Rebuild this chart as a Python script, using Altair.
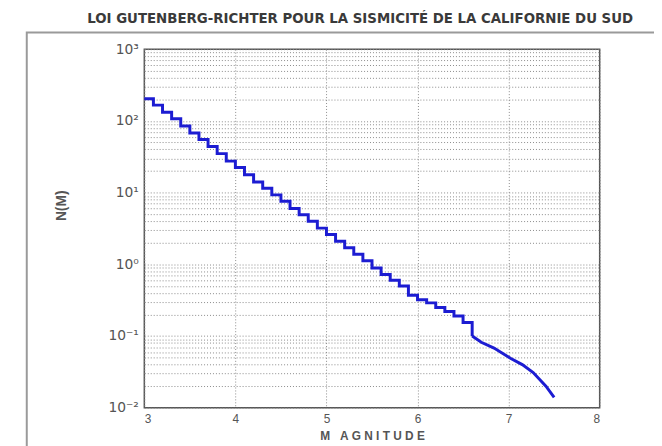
import altair as alt
import pandas as pd

# Staircase part (cumulative counts per 0.1 magnitude bin)
magnitude_steps = [3.0, 3.1, 3.2, 3.3, 3.4, 3.5, 3.6, 3.7, 3.8, 3.9,
                   4.0, 4.1, 4.2, 4.3, 4.4, 4.5, 4.6, 4.7, 4.8, 4.9,
                   5.0, 5.1, 5.2, 5.3, 5.4, 5.5, 5.6, 5.7, 5.8, 5.9,
                   6.0, 6.1, 6.2, 6.3, 6.4, 6.5, 6.6]
n_steps = [204, 166, 132, 107, 85, 68, 55, 44, 35, 27.5,
           22.4, 17.8, 14.1, 11.5, 9.3, 7.6, 6.0, 4.9, 4.0, 3.2,
           2.6, 2.1, 1.7, 1.38, 1.12, 0.89, 0.72, 0.60, 0.50, 0.37,
           0.32, 0.29, 0.25, 0.22, 0.19, 0.155, 0.1]

# Smooth tail at large magnitudes
magnitude_tail = [6.6, 6.7, 6.84, 7.02, 7.15, 7.27, 7.41, 7.5]
n_tail = [0.1, 0.082, 0.068, 0.049, 0.040, 0.031, 0.020, 0.014]

x_ticks = [3, 4, 5, 6, 7, 8]
decades = [0.01, 0.1, 1, 10, 100, 1000]
decade_labels = ["10⁻²", "10⁻¹", "10⁰", "10¹", "10²", "10³"]
y_ticks = [m * d for d in decades[:-1] for m in range(1, 10)] + [1000]

label_expr = " : ".join(
    f"abs(datum.value - {d}) < {d}*1e-6 ? '{l}'" for d, l in zip(decades, decade_labels)
) + " : ''"

steps_df = pd.DataFrame({"m": magnitude_steps, "n": n_steps})
tail_df = pd.DataFrame({"m": magnitude_tail, "n": n_tail})

line_color = "#1c1cd2"
NB = "\u00a0"
x_title = "M" + NB * 3 + NB.join("AGNITUDE")

x_enc = alt.X(
    "m:Q",
    scale=alt.Scale(domain=[3, 8], nice=False, zero=False),
    axis=alt.Axis(
        values=x_ticks, format="d", title=x_title, grid=True,
        gridDash=[1, 2], gridColor="#8a8a8a", gridWidth=1,
        ticks=False, domain=False, labelFont="Liberation Sans",
        labelFontSize=12, labelColor="#555", labelPadding=6,
        titleFont="Liberation Sans", titleFontSize=12, titleFontWeight="bold",
        titleColor="#555", titleY=28, titleBaseline="middle",
    ),
)
y_enc = alt.Y(
    "n:Q",
    scale=alt.Scale(type="log", domain=[0.01, 1000], nice=False),
    axis=alt.Axis(
        values=y_ticks, labelExpr=label_expr, title="N(M)", grid=True,
        gridDash=[1, 2], gridColor="#8a8a8a", gridWidth=1,
        ticks=False, domain=False, labelFont="DejaVu Sans",
        labelFontSize=14, labelColor="#555", labelPadding=6,
        titleFont="Liberation Sans", titleFontSize=14, titleFontWeight="bold",
        titleColor="#555", titleX=-84, titleY=158, titleAngle=-90,
        titleBaseline="middle", titleAlign="center",
    ),
)

steps = alt.Chart(steps_df).mark_line(
    interpolate="step-after", color=line_color, strokeWidth=3
).encode(x=x_enc, y=y_enc)

tail = alt.Chart(tail_df).mark_line(
    color=line_color, strokeWidth=3
).encode(x="m:Q", y="n:Q")

frame = alt.Chart(pd.DataFrame({"a": [0]})).mark_rect(
    fillOpacity=0, stroke="#9a9a9a", strokeWidth=2
).encode(x=alt.value(-119), x2=alt.value(540), y=alt.value(-17), y2=alt.value(420))

chart = alt.layer(frame, steps, tail).properties(
    width=461, height=363,
    title=alt.TitleParams(
        "LOI GUTENBERG-RICHTER POUR LA SISMICITÉ DE LA CALIFORNIE DU SUD",
        font="DejaVu Sans", fontSize=13.5, fontWeight="bold", color="#3a3a3a",
        anchor="middle", offset=6, dx=-12,
    ),
    autosize=alt.AutoSizeParams(type="none"),
    padding={"left": 138, "top": 39, "right": 55, "bottom": 36},
).configure_view(stroke="#555", strokeWidth=1.5)

chart.save("out.html", embed_options={"renderer": "svg", "actions": False})
